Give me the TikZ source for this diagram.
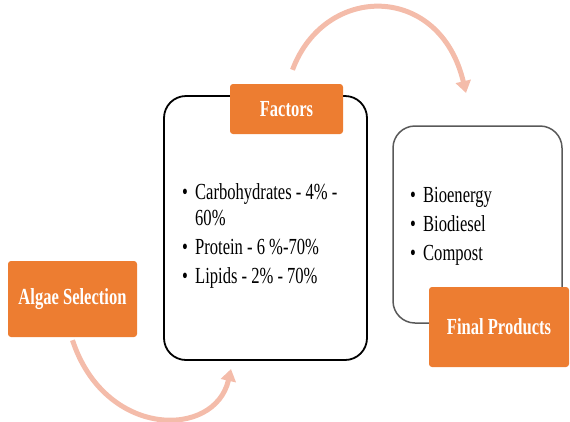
\documentclass[tikz,border=0pt]{standalone}
\usepackage{fontspec}
\setmainfont{Liberation Serif}[FakeStretch=0.72]
\usetikzlibrary{arrows.meta}
\definecolor{tabOrange}{RGB}{237,125,49}
\definecolor{flowPink}{RGB}{244,188,170}
\definecolor{boxGray}{RGB}{89,89,89}

\begin{document}
\begin{tikzpicture}[x=1pt, y=-1pt,
  tab/.style={fill=tabOrange, rounded corners=3pt, text=white, font=\fontsize{23}{26}\selectfont\bfseries, inner sep=0pt},
  frame/.style={rounded corners=22pt, inner sep=0pt},
  item/.style={anchor=base west, align=left, inner sep=0pt, font=\fontsize{23}{26}\selectfont},
  flow/.style={flowPink, line width=5pt, -{Triangle[width=15pt,length=12pt]}}]
\useasboundingbox (0,0) rectangle (570,421);

% frames
\node [frame, draw=black, line width=1.8pt, minimum width=203pt, minimum height=264pt] (factorsbox) at (265.5,228) {};
\node [frame, draw=boxGray, line width=1.5pt, minimum width=169pt, minimum height=197pt] (productsbox) at (477.5,224.5) {};

% orange tabs
\node [tab, minimum width=129pt, minimum height=76pt] (algae) at (72.5,299) {Algae Selection};
\node [tab, minimum width=113pt, minimum height=50pt] (factors) at (286.5,109) {Factors};
\node [tab, minimum width=140pt, minimum height=80pt] (products) at (499,327) {Final Products};

% lists
\node [item] (carbo) at (182,225) {\makebox[13pt][l]{\textbullet}Carbohydrates - 4\% -\\\hspace*{13pt}60\%};
\node [item] (protein) at (182,254) {\makebox[13pt][l]{\textbullet}Protein - 6 \%-70\%};
\node [item] (lipids) at (182,283) {\makebox[13pt][l]{\textbullet}Lipids - 2\% - 70\%};
\node [item] (bioenergy) at (410,202) {\makebox[13pt][l]{\textbullet}Bioenergy};
\node [item] (biodiesel) at (410,231) {\makebox[13pt][l]{\textbullet}Biodiesel};
\node [item] (compost) at (410,260) {\makebox[13pt][l]{\textbullet}Compost};

% flow arrows
\coordinate (toFactors) at (231,369);
\coordinate (toProducts) at (466,93);
\draw [flow] ([yshift=-3pt]algae.south) .. controls (105,439) and (215,439) .. (toFactors);
\draw [flow] ([xshift=6pt,yshift=14pt]factors.north) .. controls (325,-17) and (440,-17) .. (toProducts);
\end{tikzpicture}
\end{document}
